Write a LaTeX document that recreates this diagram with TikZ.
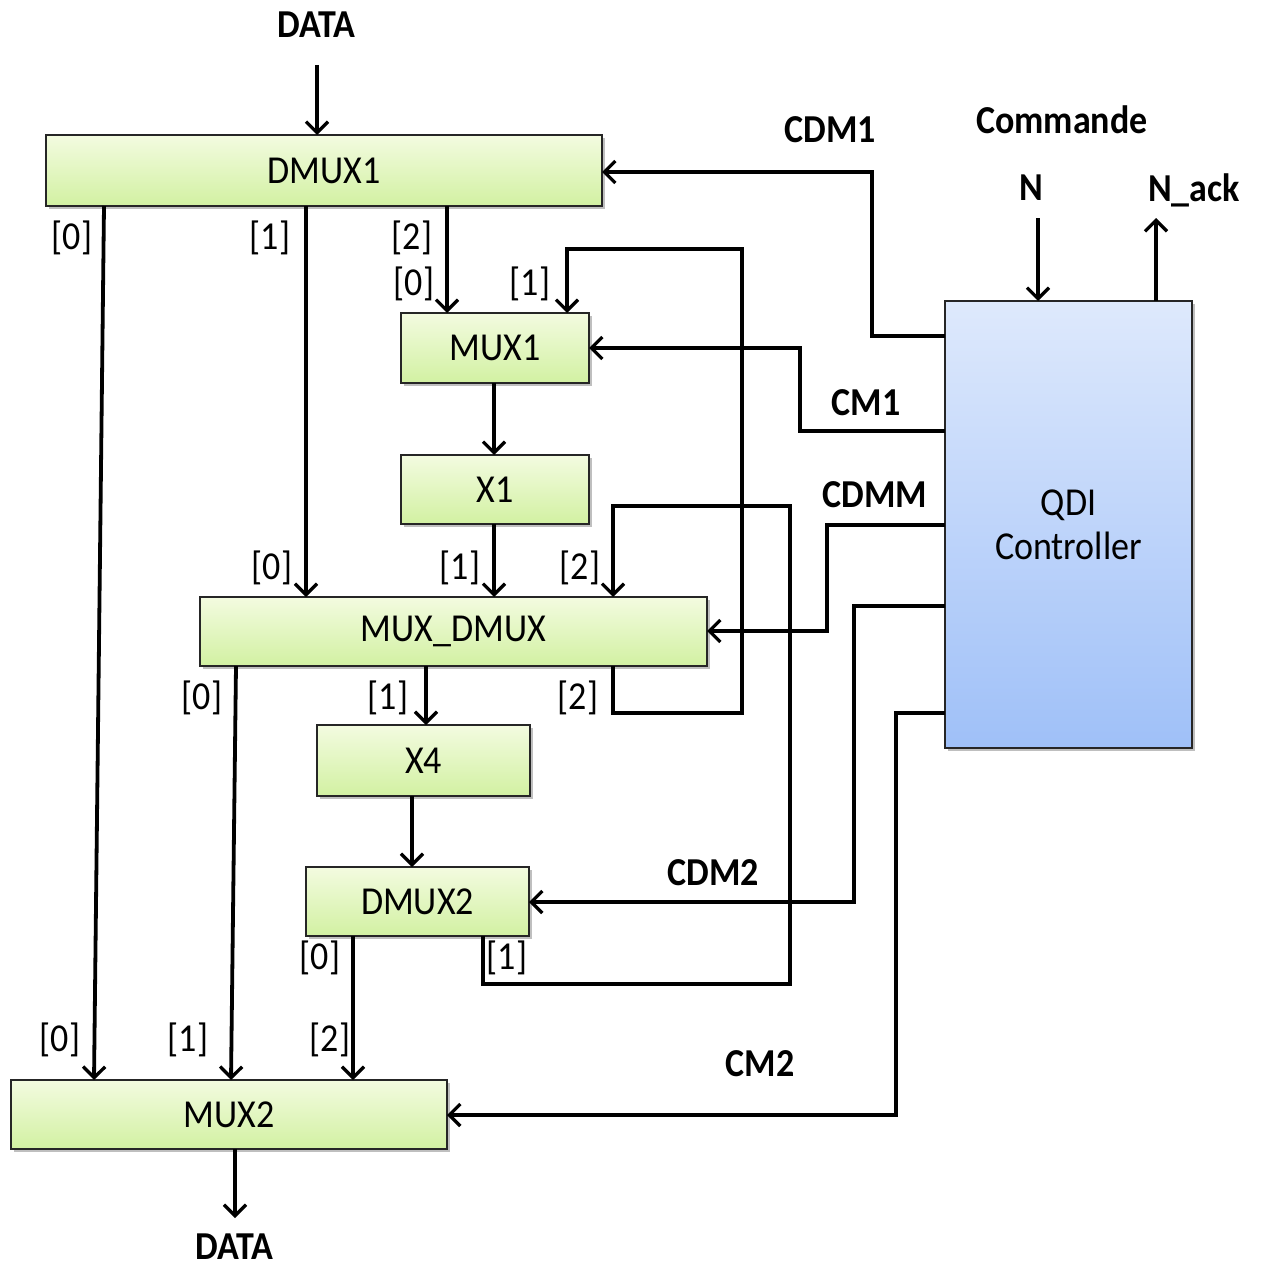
\documentclass[tikz,border=0pt]{standalone}
\usepackage{fontspec}
\usepackage{graphicx}
\setmainfont{Carlito}
\usetikzlibrary{arrows.meta,shadows}
\definecolor{gTop}{HTML}{F3FBE0}
\definecolor{gBot}{HTML}{D2F1A2}
\definecolor{bTop}{HTML}{DEE9FC}
\definecolor{bBot}{HTML}{9FC0F8}
\newcommand\tall[1]{\scalebox{1}[1.1]{#1}}
\begin{document}
\begin{tikzpicture}[x=1pt,y=-1pt,
  font=\fontsize{36}{44}\selectfont,
  blk/.style={draw=black!85, line width=2pt, inner sep=0pt, outer sep=0pt,
    top color=gTop, bottom color=gBot,
    drop shadow={opacity=0.25,shadow xshift=3pt,shadow yshift=-3pt,fill=black}},
  ctl/.style={blk, top color=bTop, bottom color=bBot, align=center},
  lbl/.style={inner sep=0pt},
  blbl/.style={inner sep=0pt, font=\fontsize{36}{44}\selectfont\bfseries},
  arr/.style={line width=3.8pt, -{Straight Barb[length=11pt,width=22pt,line width=3.3pt]}},
]
\useasboundingbox (0,0) rectangle (1262,1268);

% blocks
\node[blk, minimum width=556pt, minimum height=71pt] (DMUX1) at (324,170.5) {\tall{DMUX1}};
\node[blk, minimum width=188pt, minimum height=70pt] (MUX1) at (495,348) {\tall{MUX1}};
\node[blk, minimum width=188pt, minimum height=69pt] (X1) at (495,489.5) {\tall{X1}};
\node[blk, minimum width=507pt, minimum height=69pt] (MUXDMUX) at (453.5,631.5) {\tall{MUX\_DMUX}};
\node[blk, minimum width=213pt, minimum height=71pt] (X4) at (423.5,760.5) {\tall{X4}};
\node[blk, minimum width=223pt, minimum height=69pt] (DMUX2) at (417.5,901.5) {\tall{DMUX2}};
\node[blk, minimum width=436pt, minimum height=69pt] (MUX2) at (229,1114.5) {\tall{MUX2}};
\node[ctl, minimum width=247pt, minimum height=447pt] (QDI) at (1068.5,524.5) {\tall{QDI}\\\tall{Controller}};

% free ends
\coordinate (dataIn) at (317,65);
\coordinate (dataOut) at (235,1218);
\coordinate (nIn) at (1038,218);
\coordinate (nackOut) at (1156,218);

% top-level texts
\node[blbl] (tData) at (316,25) {\tall{DATA}};
\node[blbl] (tDataOut) at (234,1247) {\tall{DATA}};
\node[blbl] (tCmd) at (1062,120) {\tall{Commande}};
\node[blbl] (tN) at (1031,188) {\tall{N}};
\node[blbl] (tNack) at (1194,190) {\tall{N\_ack}};
\node[blbl] (tCDM1) at (830,130) {\tall{CDM1}};
\node[blbl] (tCM1) at (866,403) {\tall{CM1}};
\node[blbl] (tCDMM) at (875,495) {\tall{CDMM}};
\node[blbl] (tCDM2) at (713,873) {\tall{CDM2}};
\node[blbl] (tCM2) at (760,1064) {\tall{CM2}};

% port labels
\node[lbl] at (72,238) {\tall{[0]}};
\node[lbl] at (270,238) {\tall{[1]}};
\node[lbl] at (412,238) {\tall{[2]}};
\node[lbl] at (414,284) {\tall{[0]}};
\node[lbl] at (530,284) {\tall{[1]}};
\node[lbl] at (272,568) {\tall{[0]}};
\node[lbl] at (460,568) {\tall{[1]}};
\node[lbl] at (580,568) {\tall{[2]}};
\node[lbl] at (202,698) {\tall{[0]}};
\node[lbl] at (388,698) {\tall{[1]}};
\node[lbl] at (578,698) {\tall{[2]}};
\node[lbl] at (320,958) {\tall{[0]}};
\node[lbl] at (507,958) {\tall{[1]}};
\node[lbl] at (60,1040) {\tall{[0]}};
\node[lbl] at (188,1040) {\tall{[1]}};
\node[lbl] at (330,1040) {\tall{[2]}};

% data path
\draw[arr] (dataIn) -- (DMUX1.north -| dataIn);
\draw[arr] (DMUX1.south -| 104,0) -- (MUX2.north -| 94,0);
\draw[arr] (DMUX1.south -| 306,0) -- (MUXDMUX.north -| 306,0);
\draw[arr] (DMUX1.south -| 447,0) -- (MUX1.north -| 447,0);
\draw[arr] (MUX1.south -| 494,0) -- (X1.north -| 494,0);
\draw[arr] (X1.south -| 494,0) -- (MUXDMUX.north -| 494,0);
\draw[arr] (MUXDMUX.south -| 236,0) -- (MUX2.north -| 231,0);
\draw[arr] (MUXDMUX.south -| 426,0) -- (X4.north -| 426,0);
\draw[arr] (X4.south -| 412,0) -- (DMUX2.north -| 412,0);
\draw[arr] (DMUX2.south -| 353,0) -- (MUX2.north -| 353,0);
\draw[arr] (MUX2.south -| dataOut) -- (dataOut);

% feedback loops
\draw[arr] (MUXDMUX.south -| 613,0) -- (613,713) -- (742,713) -- (742,249) -- (567,249) -- (MUX1.north -| 567,0);
\draw[arr] (DMUX2.south -| 483,0) -- (483,984) -- (790,984) -- (790,506) -- (613,506) -- (MUXDMUX.north -| 613,0);

% controller signals
\draw[arr] (nIn) -- (QDI.north -| nIn);
\draw[arr] (QDI.north -| nackOut) -- (nackOut);
\draw[arr] (QDI.west |- 0,336) -- (872,336) -- (872,172) -- (DMUX1.east |- 0,172);
\draw[arr] (QDI.west |- 0,431) -- (800,431) -- (800,348) -- (MUX1.east);
\draw[arr] (QDI.west |- 0,525) -- (827,525) -- (827,631) -- (MUXDMUX.east |- 0,631);
\draw[arr] (QDI.west |- 0,606) -- (854,606) -- (854,902) -- (DMUX2.east |- 0,902);
\draw[arr] (QDI.west |- 0,713) -- (896,713) -- (896,1115) -- (MUX2.east |- 0,1115);
\end{tikzpicture}
\end{document}
